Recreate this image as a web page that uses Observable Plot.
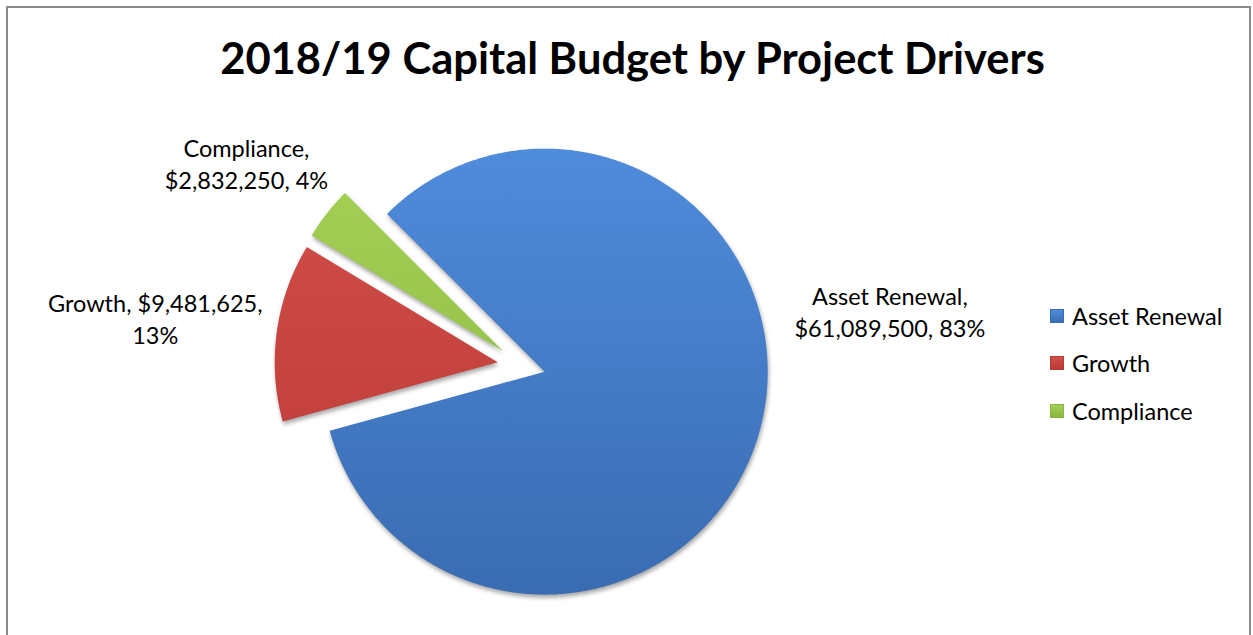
<!DOCTYPE html>
<html>
<head>
<meta charset="utf-8">
<script src="https://cdn.jsdelivr.net/npm/d3@7"></script>
<script src="https://cdn.jsdelivr.net/npm/@observablehq/plot@0.6"></script>
<style>
  html, body { margin: 0; padding: 0; background: #fff; overflow: hidden; width: 1253px; height: 635px; }
  #frame { position: absolute; left: 6px; top: 6px; width: 1245px; height: 720px; border: 2px solid #8a8a8a; box-sizing: border-box; }
  #chart { position: absolute; left: 0; top: 0; }
  #title { position: absolute; left: 0; top: 36px; width: 1265px; text-align: center; font: 700 43.5px Lato, "Liberation Sans", sans-serif; line-height: 1; color: #000; }
  #legend { position: absolute; left: 1050px; top: 292px; font: 23.5px Lato, "Liberation Sans", sans-serif; color: #000; }
  #legend .row { display: flex; align-items: center; height: 47.5px; }
  #legend .sw { width: 14px; height: 14px; margin-right: 8px; box-sizing: border-box; }
  svg path.slice { filter: drop-shadow(1px 3px 2px rgba(0,0,0,0.35)); }
</style>
</head>
<body>
<div id="frame"></div>
<div id="chart"></div>
<div id="title">2018/19 Capital Budget by Project Drivers</div>
<div id="legend"></div>
<script>
// ---- data ----
const categories = ["Asset Renewal", "Growth", "Compliance"];
const values = [61089500, 9481625, 2832250];
const colorsTop = ["#4f8cdc", "#d24f4b", "#a5d157"];
const colorsBottom = ["#3a6cb2", "#bb3a36", "#8ab63f"];
// label line break after this many parts (name | amount | percent)
const labelSplit = [1, 2, 1];

// ---- layout ----
const W = 1253, H = 635;
const cx = 521, cy = 365, R = 223, explode = 24;
const labelAngleDeg = [82, 277, 306];
const labelRadius = [372, 369, 340];

const total = d3.sum(values);
const slices = categories.map((name, i) => ({ name, value: values[i], i }));
const pie = d3.pie().sort(null).value(d => d.value)
  .startAngle(-Math.PI / 4).endAngle(2 * Math.PI - Math.PI / 4);
const arcs = pie(slices);

const pts = arcs.flatMap(a => {
  const mid = (a.startAngle + a.endAngle) / 2;
  const ox = cx + explode * Math.sin(mid), oy = cy - explode * Math.cos(mid);
  const n = Math.max(4, Math.ceil((a.endAngle - a.startAngle) / 0.01));
  const out = [{ name: a.data.name, i: a.data.i, x: ox, y: oy }];
  for (let k = 0; k <= n; k++) {
    const t = a.startAngle + (a.endAngle - a.startAngle) * k / n;
    out.push({ name: a.data.name, i: a.data.i, x: ox + R * Math.sin(t), y: oy - R * Math.cos(t) });
  }
  return out;
});

const fmt = d3.format(",");
const labels = arcs.map(a => {
  const i = a.data.i;
  const parts = [a.data.name, "$" + fmt(a.data.value), Math.round(100 * a.data.value / total) + "%"];
  const text = parts.slice(0, labelSplit[i]).join(", ") + ",\n" + parts.slice(labelSplit[i]).join(", ");
  const ang = labelAngleDeg[i] * Math.PI / 180;
  return { text, x: cx + labelRadius[i] * Math.sin(ang), y: cy - labelRadius[i] * Math.cos(ang) };
});

const svg = Plot.plot({
  width: W, height: H,
  margin: 0,
  x: { domain: [0, W], range: [0, W], axis: null },
  y: { domain: [0, H], range: [0, H], axis: null },
  color: { type: "identity" },
  marks: [
    Plot.line(pts, { x: "x", y: "y", z: "name", fill: d => `url(#grad${d.i})`, stroke: "none", curve: "linear-closed" }),
    Plot.text(labels, { x: "x", y: "y", text: "text", dy: -3, fontSize: 23.5, lineHeight: 1.36, textAnchor: "middle", lineAnchor: "middle", fill: "#000", fontFamily: "Lato, 'Liberation Sans', sans-serif" })
  ],
  style: { background: "transparent", overflow: "visible" }
});

const defs = d3.select(svg).insert("defs", ":first-child");
categories.forEach((c, i) => {
  const g = defs.append("linearGradient").attr("id", "grad" + i)
    .attr("gradientUnits", "userSpaceOnUse")
    .attr("x1", 0).attr("y1", cy - R).attr("x2", 0).attr("y2", cy + R);
  g.append("stop").attr("offset", "0%").attr("stop-color", colorsTop[i]);
  g.append("stop").attr("offset", "100%").attr("stop-color", colorsBottom[i]);
});
d3.select(svg).selectAll("g[aria-label='line'] path").attr("class", "slice");

document.getElementById("chart").appendChild(svg);

const legend = d3.select("#legend");
categories.forEach((c, i) => {
  const row = legend.append("div").attr("class", "row");
  row.append("div").attr("class", "sw")
    .style("background", `linear-gradient(${colorsTop[i]}, ${colorsBottom[i]})`)
    .style("border", `1px solid ${colorsBottom[i]}`);
  row.append("span").text(c);
});
</script>
</body>
</html>
